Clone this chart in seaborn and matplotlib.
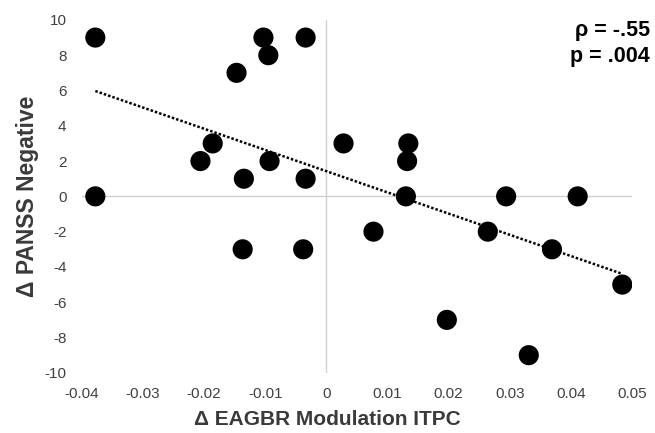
import seaborn as sns
import matplotlib.pyplot as plt
import pandas as pd

# change in EAGBR modulation ITPC vs change in PANSS negative
itpc = [-0.0378, -0.0378, -0.0103, -0.0034, -0.0095, -0.0147, -0.0186, -0.0206,
        -0.0093, -0.0135, -0.0034, -0.0137, -0.0038, 0.0028, 0.0134, 0.0132,
        0.0130, 0.0294, 0.0411, 0.0077, 0.0264, 0.0369, 0.0484, 0.0197, 0.0331]
panss = [9, 0, 9, 9, 8, 7, 3, 2,
         2, 1, 1, -3, -3, 3, 3, 2,
         0, 0, 0, -2, -2, -3, -5, -7, -9]
xticks = [-0.04, -0.03, -0.02, -0.01, 0, 0.01, 0.02, 0.03, 0.04, 0.05]
xticklabels = ["-0.04", "-0.03", "-0.02", "-0.01", "0", "0.01", "0.02", "0.03", "0.04", "0.05"]
yticks = [-10, -8, -6, -4, -2, 0, 2, 4, 6, 8, 10]

df = pd.DataFrame({"itpc": itpc, "panss": panss})

sns.set_theme(style="white")
plt.rcParams["font.family"] = ["Liberation Sans", "DejaVu Sans"]
plt.rcParams["axes.unicode_minus"] = False

f, ax = plt.subplots(figsize=(6.55, 4.33), dpi=100)
f.subplots_adjust(left=0.125, right=0.965, bottom=0.139, top=0.954)

ax.axhline(0, color="#d0d0d0", lw=1, zorder=0)
ax.axvline(0, color="#d0d0d0", lw=1, zorder=0)

sns.regplot(data=df, x="itpc", y="panss", scatter=False, ci=None, ax=ax,
            line_kws={"color": "black", "lw": 1.8, "linestyle": (0, (1, 0.8))})
sns.scatterplot(data=df, x="itpc", y="panss", color="black", s=210,
                edgecolor="none", ax=ax, zorder=3)

ax.set_xlim(-0.04, 0.05)
ax.set_ylim(-10, 10)
ax.set_xticks(xticks)
ax.set_xticklabels(xticklabels)
ax.set_yticks(yticks)
for s in ax.spines.values():
    s.set_visible(False)
ax.tick_params(axis="both", labelsize=11, colors="#404040", length=0)
ax.tick_params(axis="x", pad=10)
ax.tick_params(axis="y", pad=11)

ax.set_xlabel("Δ EAGBR Modulation ITPC", fontsize=15, fontweight="bold",
              color="#3a3a3a", labelpad=6)
ax.xaxis.set_label_coords(0.447, -0.105)
ax.set_ylabel("Δ PANSS Negative", fontsize=16.5, fontweight="bold",
              color="#3a3a3a", labelpad=4)

ax.text(1.033, 1.0, "ρ = -.55\np = .004", transform=ax.transAxes, ha="right",
        va="top", fontsize=15.5, fontweight="bold", color="black", linespacing=1.3)

plt.savefig("out.png", dpi=100)
